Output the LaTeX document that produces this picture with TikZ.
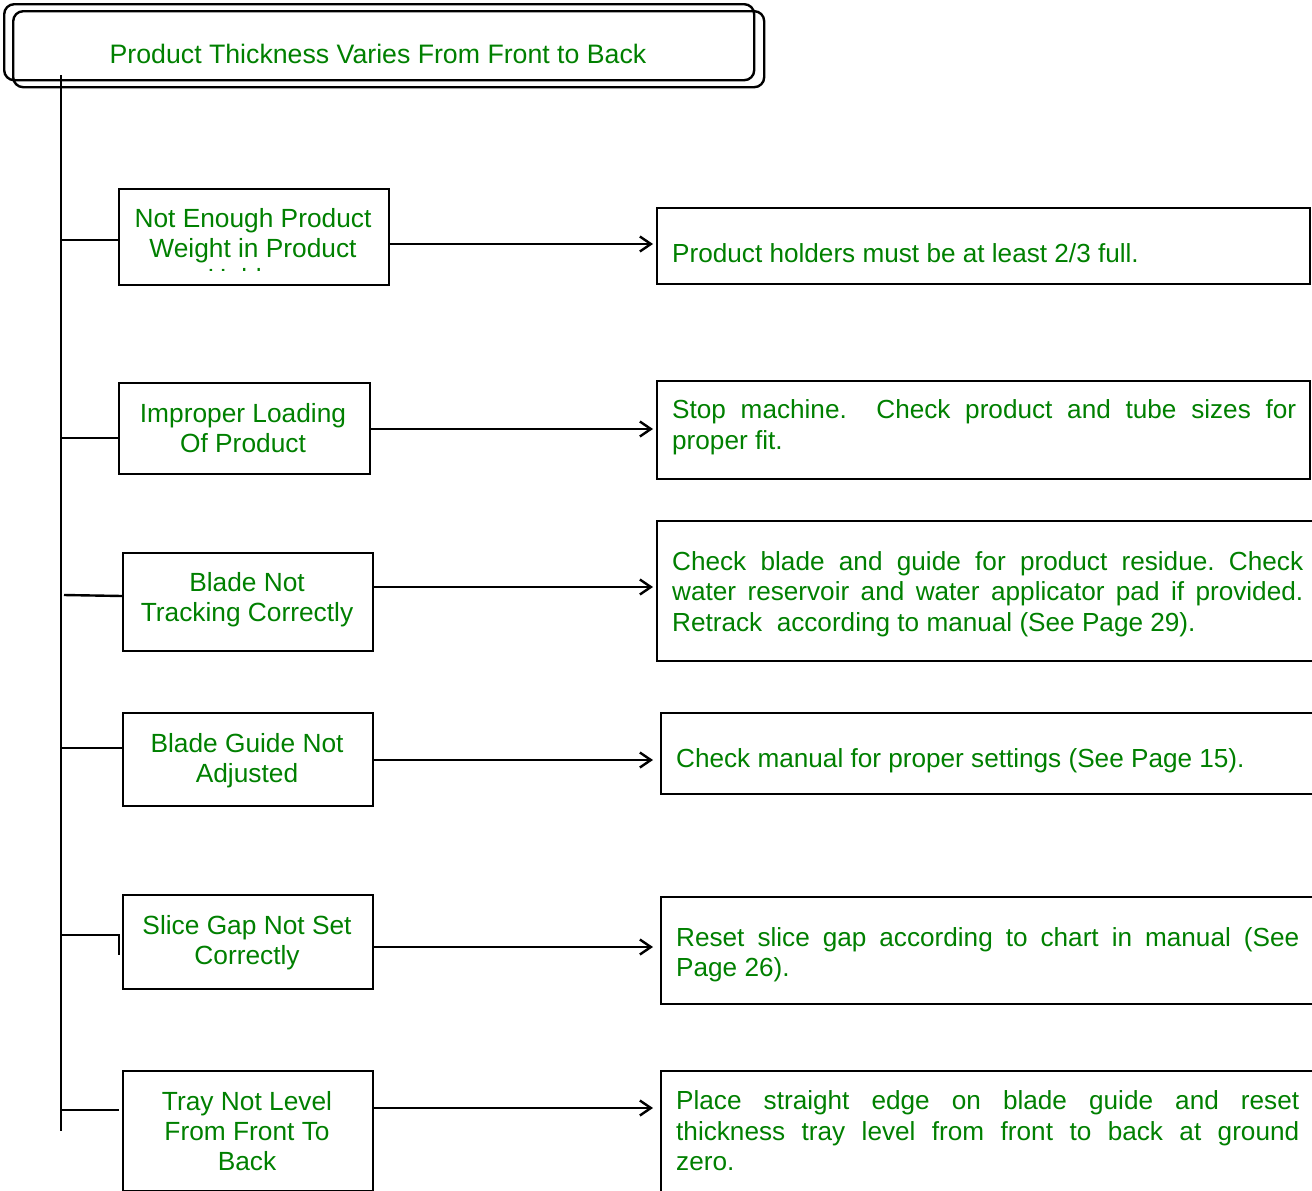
\documentclass[tikz,border=0pt]{standalone}
\usepackage{fontspec}
\setmainfont{Liberation Sans}
\usetikzlibrary{arrows.meta}
\definecolor{txtgreen}{RGB}{0,128,0}
\frenchspacing

\begin{document}
\begin{tikzpicture}[x=1pt,y=-1pt,line width=2.4pt,
  frame/.style={draw=black,line width=2.4pt,inner sep=0pt,anchor=north west},
  title/.style={frame,rounded corners=10pt},
  lbl/.style={text=txtgreen,font=\fontsize{26.3}{30}\selectfont,inner sep=0pt,align=center},
  sol/.style={text=txtgreen,font=\fontsize{26.15}{30.5}\selectfont,inner sep=0pt,anchor=west,align=justify,text width=#1},
  link/.style={-{Straight Barb[length=11pt,width=15pt,line width=2.4pt]},line width=2.4pt,shorten >=3pt},
  branch/.style={line width=2.4pt}]

% page area
\fill[white] (0,0) rectangle (1312,1191);
\useasboundingbox (0,0) rectangle (1312,1191);

% heading: two offset rounded frames
\node[title,minimum width=750pt,minimum height=76pt] (t1) at (3,3) {};
\node[title,minimum width=751pt,minimum height=76pt] (t2) at (12,10) {};
\node[lbl,font=\fontsize{26.7}{30}\selectfont] (tt) at (378,54) {Product Thickness Varies From Front to Back};

% cause boxes
\node[frame,minimum width=270pt,minimum height=96pt]  (c1) at (118,188) {};
\node[frame,minimum width=251pt,minimum height=91pt]  (c2) at (118,382) {};
\node[frame,minimum width=250pt,minimum height=98pt]  (c3) at (122,552) {};
\node[frame,minimum width=250pt,minimum height=93pt]  (c4) at (122,712) {};
\node[frame,minimum width=250pt,minimum height=94pt]  (c5) at (122,894) {};
\node[frame,minimum width=250pt,minimum height=120pt] (c6) at (122,1070) {};

\begin{scope}
  \clip (118,188) rectangle (388,270.5);
  \node[lbl] (c1t) at (253,248) {Not Enough Product\\Weight in Product\\Holders};
\end{scope}
\node[lbl] (c2t) at (243,428) {Improper Loading\\Of Product};
\node[lbl] (c3t) at (247,600) {Blade Not\\Tracking Correctly};
\node[lbl] (c4t) at (247,760.5) {Blade Guide Not\\Adjusted};
\node[lbl] (c5t) at (247,942.5) {Slice Gap Not Set\\Correctly};
\node[lbl] (c6t) at (247,1131) {Tray Not Level\\From Front To\\Back};

% remedy boxes
\node[frame,minimum width=653pt,minimum height=76pt]  (s1) at (656,207) {};
\node[frame,minimum width=653pt,minimum height=98pt]  (s2) at (656,380) {};
\node[frame,minimum width=670pt,minimum height=140pt] (s3) at (656,520) {};
\node[frame,minimum width=670pt,minimum height=81pt]  (s4) at (660,712) {};
\node[frame,minimum width=670pt,minimum height=107pt] (s5) at (660,896) {};
\node[frame,minimum width=670pt,minimum height=140pt] (s6) at (660,1070) {};

\node[sol=620pt] (s1t) at (671,253) {Product holders must be at least 2/3 full.};
\node[sol=624pt] (s2t) at (671,427) {Stop machine.\ \ Check product and tube sizes for\linebreak proper fit.};
\node[sol=631pt] (s3t) at (671,594) {Check blade and guide for product residue. Check\linebreak water reservoir and water applicator pad if provided.\linebreak Retrack\ \ according to manual (See Page 29).};
\node[sol=620pt] (s4t) at (675,761) {Check manual for proper settings (See Page 15).};
\node[sol=623pt] (s5t) at (675,954.5) {Reset slice gap according to chart in manual (See\linebreak Page 26).};
\node[sol=623pt] (s6t) at (675,1131) {Place straight edge on blade guide and reset\linebreak thickness tray level from front to back at ground\linebreak zero.};

% spine and branch points
\coordinate (spT) at (61,75);
\coordinate (spB) at (61,1131);
\coordinate (b1) at (61,240);
\coordinate (b2) at (61,438);
\coordinate (b3) at (64,595);
\coordinate (b4) at (61,748);
\coordinate (b5) at (61,935);
\coordinate (k5) at (119,955);
\coordinate (b6) at (61,1110);
\coordinate (k6) at (119,1110);

\draw[branch] (spT) -- (spB);
\draw[branch] (b1) -- (c1.west |- b1);
\draw[branch] (b2) -- (c2.west |- b2);
\draw[branch] (b3) -- ([yshift=-1pt]c3.west |- b3);
\draw[branch] (b4) -- (c4.west |- b4);
\draw[branch] (b5) -| (k5);
\draw[branch] (b6) -- (k6);

% arrow levels
\coordinate (a1) at (0,244);
\coordinate (a2) at (0,429);
\coordinate (a3) at (0,587);
\coordinate (a4) at (0,760);
\coordinate (a5) at (0,947);
\coordinate (a6) at (0,1108);

\draw[link] (c1.east |- a1) -- (s1.west |- a1);
\draw[link] (c2.east |- a2) -- (s2.west |- a2);
\draw[link] (c3.east |- a3) -- (s3.west |- a3);
\draw[link] ([xshift=-2pt]c4.east |- a4) -- ([xshift=-4pt]s4.west |- a4);
\draw[link] ([xshift=-2pt]c5.east |- a5) -- ([xshift=-4pt]s5.west |- a5);
\draw[link] ([xshift=-2pt]c6.east |- a6) -- ([xshift=-4pt]s6.west |- a6);
\end{tikzpicture}
\end{document}
